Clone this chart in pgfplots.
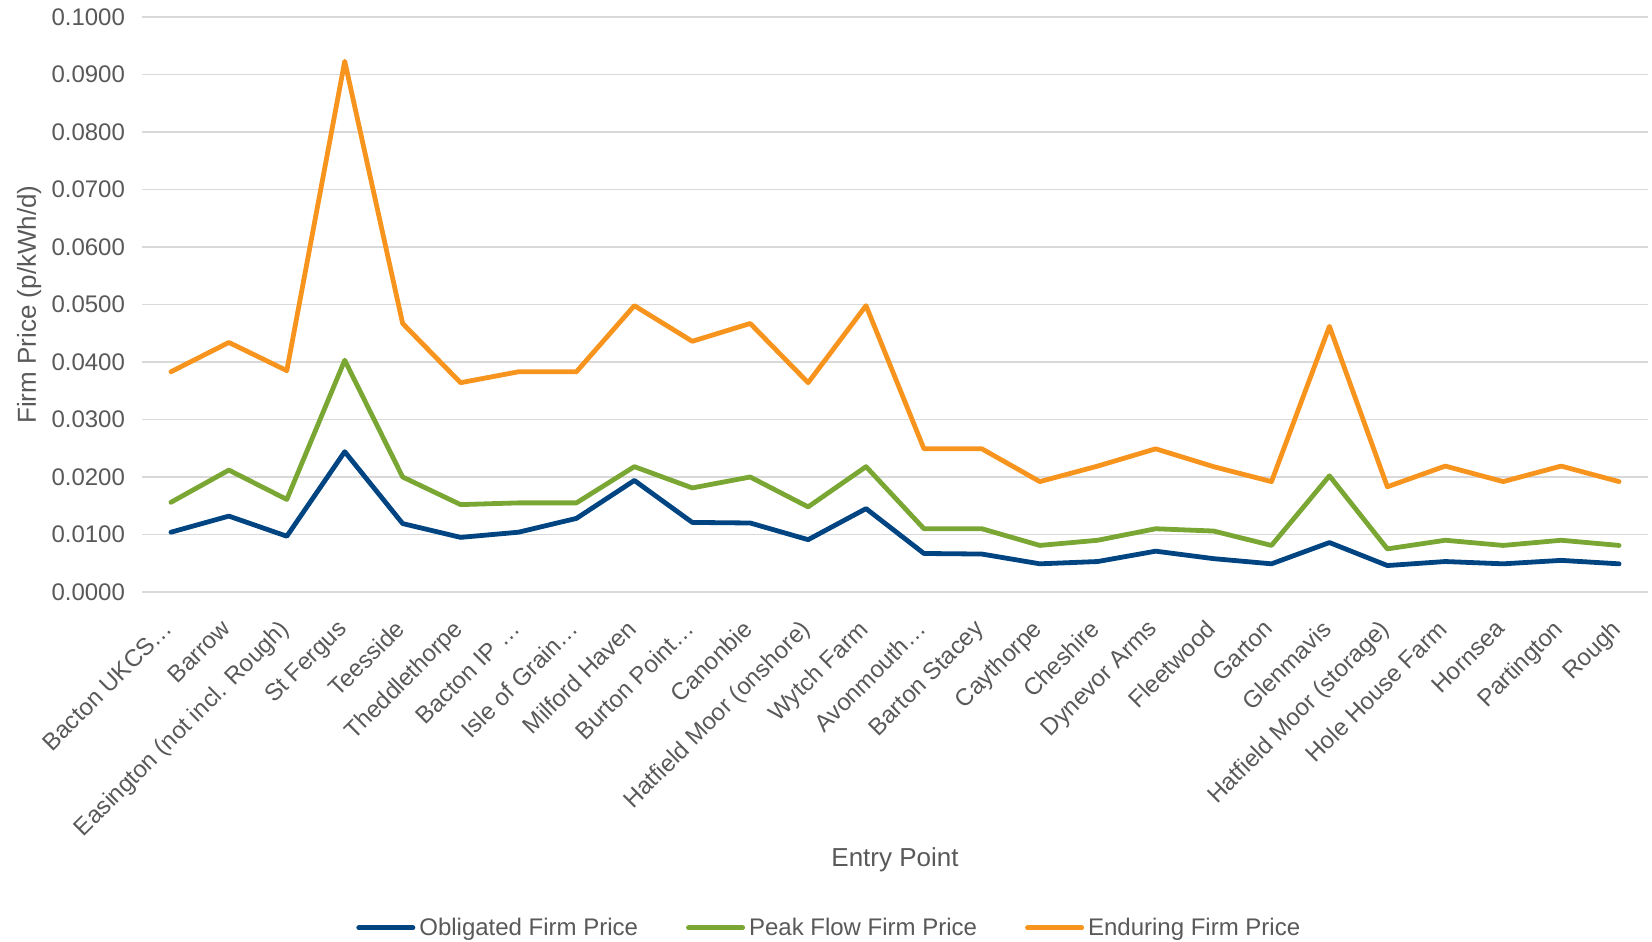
\documentclass[border=0pt]{standalone}
\usepackage{fontspec}
\setmainfont{Liberation Sans}
\usepackage{pgfplots}
\pgfplotsset{compat=1.18}
\definecolor{cblue}{RGB}{0,68,129}
\definecolor{cgreen}{RGB}{122,166,52}
\definecolor{corange}{RGB}{247,148,29}
\definecolor{cgrid}{RGB}{217,217,217}
\definecolor{ctext}{RGB}{89,89,89}
\begin{document}
\begin{tikzpicture}
\path[use as bounding box] (-71pt,-174.5pt) rectangle (755pt,296pt);
\begin{axis}[
  at={(0pt,0pt)}, anchor=south west,
  scale only axis, width=753pt, height=287.5pt,
  xmin=0.5, xmax=26.5, ymin=0, ymax=0.1,
  xtick={1,...,26},
  xticklabels={Bacton UKCS…,Barrow,Easington (not incl. Rough),St Fergus,Teesside,Theddlethorpe,Bacton IP …,Isle of Grain…,Milford Haven,Burton Point…,Canonbie,Hatfield Moor (onshore),Wytch Farm,Avonmouth…,Barton Stacey,Caythorpe,Cheshire,Dynevor Arms,Fleetwood,Garton,Glenmavis,Hatfield Moor (storage),Hole House Farm,Hornsea,Partington,Rough},
  ytick={0,0.01,0.02,0.03,0.04,0.05,0.06,0.07,0.08,0.09,0.1},
  /pgf/number format/fixed, /pgf/number format/fixed zerofill, /pgf/number format/precision=4, /pgf/number format/assume math mode=true,
  yticklabel style={font=\fontsize{12}{14}\selectfont, text=ctext, xshift=-5pt},
  xticklabel style={font=\fontsize{12}{14}\selectfont, text=ctext, xshift=-4.5pt, yshift=-13pt, rotate=45, anchor=north east, inner sep=0pt},
  axis line style={draw=none},
  tick style={draw=none},
  ymajorgrids, grid style={cgrid, line width=0.75pt},
  xlabel={Entry Point}, ylabel={Firm Price (p/kWh/d)},
  label style={font=\fontsize{13}{15}\selectfont, text=ctext},
  xlabel style={at={(axis description cs:0.5,-0.466)}, anchor=center},
  ylabel style={at={(axis description cs:-0.075,0.5)}, anchor=center},
  legend style={at={(axis description cs:0.457,-0.584)}, anchor=center, draw=none, legend columns=3,
    font=\fontsize{12}{14}\selectfont, text=ctext,
    /tikz/every even column/.append style={column sep=22pt},
    legend cell align=left, inner sep=0pt},
  legend image code/.code={\draw[#1, line width=2.5pt, line cap=round] (0pt,0pt) -- (27pt,0pt);},
  every axis plot/.append style={line width=2.4pt, line join=round, line cap=round, mark=none},
]
\addplot[cblue] coordinates {
(1,0.0104) (2,0.0132) (3,0.0097) (4,0.0244) (5,0.0119) (6,0.0095) (7,0.0104) (8,0.0128) (9,0.0194) (10,0.0121) (11,0.0120) (12,0.0091) (13,0.0145) (14,0.0067) (15,0.0066) (16,0.0049) (17,0.0053) (18,0.0071) (19,0.0058) (20,0.0049) (21,0.0086) (22,0.0046) (23,0.0053) (24,0.0049) (25,0.0055) (26,0.0049)};
\addlegendentry{Obligated Firm Price}
\addplot[cgreen] coordinates {
(1,0.0156) (2,0.0212) (3,0.0161) (4,0.0403) (5,0.0200) (6,0.0152) (7,0.0155) (8,0.0155) (9,0.0218) (10,0.0181) (11,0.0200) (12,0.0148) (13,0.0218) (14,0.0110) (15,0.0110) (16,0.0081) (17,0.0090) (18,0.0110) (19,0.0106) (20,0.0081) (21,0.0202) (22,0.0075) (23,0.0090) (24,0.0081) (25,0.0090) (26,0.0081)};
\addlegendentry{Peak Flow Firm Price}
\addplot[corange] coordinates {
(1,0.0383) (2,0.0434) (3,0.0385) (4,0.0923) (5,0.0467) (6,0.0364) (7,0.0383) (8,0.0383) (9,0.0498) (10,0.0436) (11,0.0467) (12,0.0364) (13,0.0498) (14,0.0249) (15,0.0249) (16,0.0192) (17,0.0219) (18,0.0249) (19,0.0218) (20,0.0192) (21,0.0462) (22,0.0183) (23,0.0219) (24,0.0192) (25,0.0219) (26,0.0192)};
\addlegendentry{Enduring Firm Price}
\end{axis}
\end{tikzpicture}
\end{document}
